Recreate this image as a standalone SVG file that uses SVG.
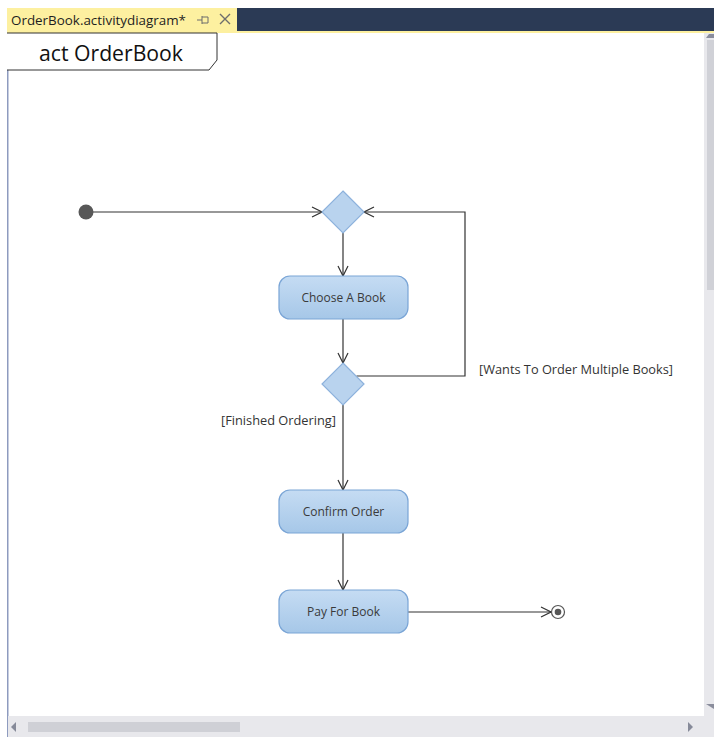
<svg xmlns="http://www.w3.org/2000/svg" width="714" height="737" viewBox="0 0 714 737">
  <style>
    .ui { font-family: "Open Sans", "Liberation Sans", sans-serif; }
    .action { fill: url(#actionFill); stroke: #7aa5d6; stroke-width: 1.2; }
    .decision { fill: #b9d3ee; stroke: #8db2dc; stroke-width: 1.2; }
    .label { font-family: "Open Sans", "Liberation Sans", sans-serif; font-size: 12px; fill: #3a3a3a; }
    .guard { font-family: "Open Sans", "Liberation Sans", sans-serif; font-size: 12px; fill: #333333; }
    .flow { fill: none; stroke: #333333; stroke-width: 1.2; }
  </style>
  <defs>
    <linearGradient id="actionFill" x1="0" y1="0" x2="0" y2="1">
      <stop offset="0" stop-color="#c5dcf3"/>
      <stop offset="1" stop-color="#a6c7e8"/>
    </linearGradient>
    <marker id="open" viewBox="0 0 12 12" refX="11" refY="6" markerWidth="12" markerHeight="12" markerUnits="userSpaceOnUse" orient="auto">
      <path d="M1,1 L11,6 L1,11" fill="none" stroke="#333333" stroke-width="1.2"/>
    </marker>
  </defs>

  <!-- editor chrome -->
  <rect x="0" y="0" width="714" height="737" fill="#ffffff"/>
  <rect x="7" y="8" width="707" height="24" fill="#2b3a55"/>
  <rect x="7" y="8" width="230" height="24" fill="#fdf0a0"/>
  <rect x="7" y="31" width="707" height="2" fill="#fdf0a0"/>
  <text class="ui" x="11" y="25" font-size="13" fill="#1e1e1e" textLength="175" lengthAdjust="spacingAndGlyphs">OrderBook.activitydiagram*</text>
  <g stroke="#6d6d6d" stroke-width="1" fill="none">
    <path d="M197,20 H202 M202,16 V24 M202,17 H208 M202,23 H208 M208,17 V23"/>
    <path d="M220,14 L230,24 M230,14 L220,24" stroke-width="1.4"/>
  </g>
  <rect x="7" y="33" width="1.5" height="704" fill="#8e9bbf"/>

  <!-- scrollbars -->
  <rect x="704" y="33" width="10" height="683" fill="#e8e8ec"/>
  <rect x="707" y="40" width="7" height="250" fill="#d0d1d7"/>
  <path d="M709,34 L714,34 L714,38 L706,38 Z" fill="#8a8d9c"/>
  <path d="M706,704 L714,704 L714,709 Z" fill="#8a8d9c"/>
  <rect x="8" y="716" width="706" height="21" fill="#e8e8ec"/>
  <rect x="28" y="722" width="212" height="10" fill="#cfd0d6"/>
  <path d="M16,722 L16,732 L11,727 Z" fill="#868a99"/>
  <path d="M688,722 L688,732 L693,727 Z" fill="#868a99"/>

  <!-- diagram frame label -->
  <g id="frame">
    <path d="M7,33 H217 V60 L209,70 H7" fill="#ffffff" stroke="#333333" stroke-width="1"/>
    <text class="ui" x="39" y="61" font-size="22" fill="#111111" textLength="144" lengthAdjust="spacingAndGlyphs">act OrderBook</text>
  </g>

  <!-- connectors -->
  <g id="connectors">
    <path class="flow" d="M93,212 H322" marker-end="url(#open)"/>
    <path class="flow" d="M356.5,376 H465 V212 H364" marker-end="url(#open)"/>
    <path class="flow" d="M343,233 V276" marker-end="url(#open)"/>
    <path class="flow" d="M343,319 V363" marker-end="url(#open)"/>
    <path class="flow" d="M343,405 V490" marker-end="url(#open)"/>
    <path class="flow" d="M343,533 V590" marker-end="url(#open)"/>
    <path class="flow" d="M408,612 H551" marker-end="url(#open)"/>
    <text class="guard" x="479" y="374" textLength="194" lengthAdjust="spacingAndGlyphs">[Wants To Order Multiple Books]</text>
    <text class="guard" x="221" y="425" textLength="115" lengthAdjust="spacingAndGlyphs">[Finished Ordering]</text>
  </g>

  <!-- nodes -->
  <g id="initial">
    <circle cx="86" cy="212" r="7.5" fill="#585858"/>
  </g>
  <g id="merge">
    <path class="decision" d="M343,191 L364,212 L343,233 L322,212 Z"/>
  </g>
  <g id="choose-a-book">
    <rect class="action" x="279" y="276" width="129" height="43" rx="11"/>
    <text class="label" x="343.5" y="301.5" text-anchor="middle">Choose A Book</text>
  </g>
  <g id="decision">
    <path class="decision" d="M343,363 L364,384 L343,405 L322,384 Z"/>
  </g>
  <g id="confirm-order">
    <rect class="action" x="279" y="490" width="129" height="43" rx="11"/>
    <text class="label" x="343.5" y="515.5" text-anchor="middle">Confirm Order</text>
  </g>
  <g id="pay-for-book">
    <rect class="action" x="279" y="590" width="129" height="43" rx="11"/>
    <text class="label" x="343.5" y="615.5" text-anchor="middle">Pay For Book</text>
  </g>
  <g id="final">
    <circle cx="558" cy="612" r="6.5" fill="#ffffff" stroke="#555555" stroke-width="1.2"/>
    <circle cx="558" cy="612" r="3.3" fill="#555555"/>
  </g>
</svg>
